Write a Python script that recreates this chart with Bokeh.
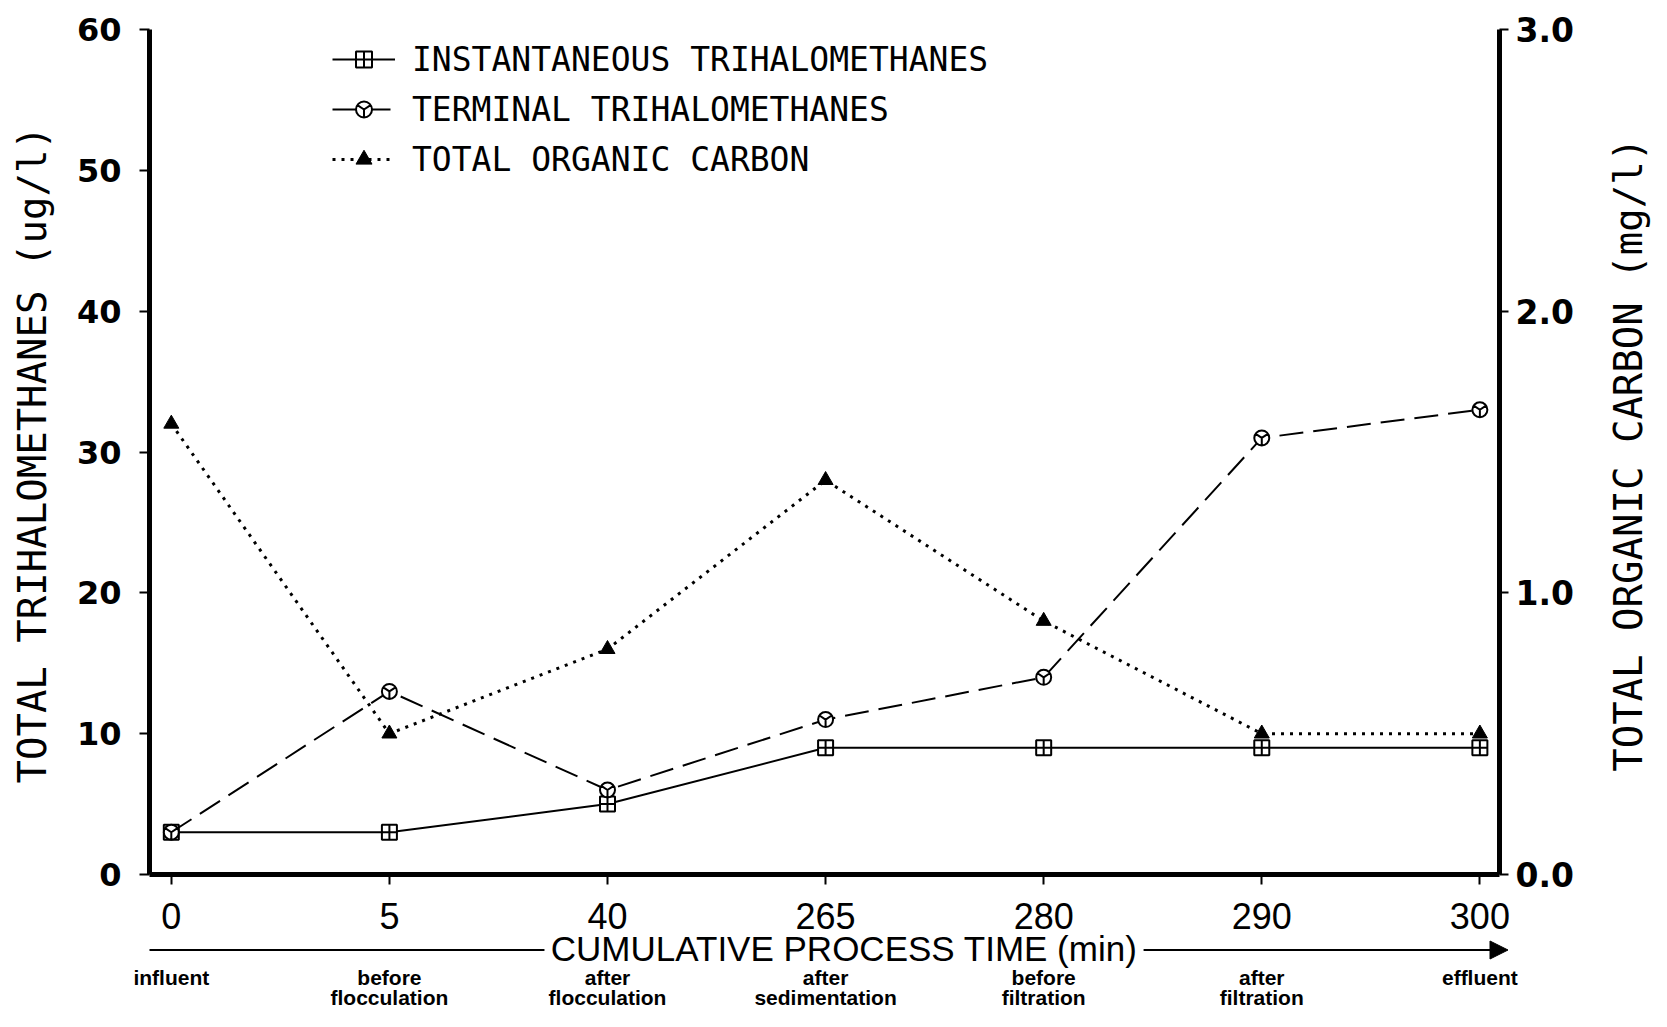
import math
from bokeh.plotting import figure
from bokeh.layouts import column, row
from bokeh.models import (Range1d, LinearAxis, FixedTicker, Legend, LegendItem,
                          Arrow, NormalHead, NumeralTickFormatter)
from bokeh.core.properties import value
from bokeh.embed import file_html
from bokeh.resources import INLINE

# ---- data ----
times = ["0", "5", "40", "265", "280", "290", "300"]
stages = ["influent", "before\nflocculation", "after\nflocculation",
          "after\nsedimentation", "before\nfiltration", "after\nfiltration", "effluent"]
inst_thm = [3, 3, 5, 9, 9, 9, 9]
term_thm = [3, 13, 6, 11, 14, 31, 33]
toc = [1.6, 0.5, 0.8, 1.4, 0.9, 0.5, 0.5]
thm_ticks = [0, 10, 20, 30, 40, 50, 60]
toc_ticks = [0.0, 1.0, 2.0, 3.0]
x_title = "CUMULATIVE PROCESS TIME (min)"
y_title = "TOTAL TRIHALOMETHANES (ug/l)"
y2_title = "TOTAL ORGANIC CARBON (mg/l)"

xs = list(range(len(times)))
stage_line1 = [s.split("\n")[0] for s in stages]
stage_line2 = [s.split("\n")[1] if "\n" in s else "" for s in stages]

# ---- layout geometry (pixels) ----
W = 1651
TOTAL_H = 1011
LEFT_W = 60          # strip holding the left axis title
RIGHT_W = 51         # strip holding the right axis title
FRAME_L, FRAME_R = 149, 1499
FRAME_T, FRAME_B = 29, 874
TOP_H = FRAME_B + 20
BOT_H = TOTAL_H - TOP_H
X0, X1 = -0.1, 6.09
PX = (FRAME_R - FRAME_L) / (X1 - X0)

TICK_FONT = "DejaVu Sans"
LABEL_FONT = "DejaVu Sans Mono"

main_w = W - LEFT_W - RIGHT_W
p = figure(width=main_w, height=TOP_H, output_backend="svg", toolbar_location=None,
           x_range=Range1d(X0, X1), y_range=Range1d(0, 60),
           min_border_left=FRAME_L - LEFT_W,
           min_border_right=LEFT_W + main_w - FRAME_R,
           min_border_top=FRAME_T, min_border_bottom=TOP_H - FRAME_B,
           background_fill_color="white", border_fill_color="white")
p.outline_line_color = None
p.grid.visible = False
p.extra_y_ranges = {"toc": Range1d(0, 3)}

# left axis
ya = p.yaxis[0]
ya.ticker = FixedTicker(ticks=thm_ticks)
ya.axis_line_width = 5
ya.major_tick_out = 10
ya.major_tick_in = 0
ya.major_tick_line_width = 2
ya.minor_tick_line_color = None
ya.major_label_text_font = TICK_FONT
ya.major_label_text_font_style = "bold"
ya.major_label_text_font_size = "32px"
ya.major_label_text_color = "black"
ya.major_label_standoff = 18

# right axis
ra = LinearAxis(y_range_name="toc", ticker=FixedTicker(ticks=toc_ticks),
                formatter=NumeralTickFormatter(format="0.0"))
ra.axis_line_width = 5
ra.major_tick_out = 9
ra.major_tick_in = 0
ra.major_tick_line_width = 2
ra.minor_tick_line_color = None
ra.major_label_text_font = TICK_FONT
ra.major_label_text_font_style = "bold"
ra.major_label_text_font_size = "33px"
ra.major_label_text_color = "black"
ra.major_label_standoff = 7
p.add_layout(ra, "right")

# bottom axis: line and ticks (labels drawn in the strip below)
xa = p.xaxis[0]
xa.ticker = FixedTicker(ticks=xs)
xa.major_label_overrides = {i: "" for i in xs}
xa.major_label_text_font_size = "1px"
xa.major_label_standoff = 0
xa.axis_line_width = 5
xa.major_tick_out = 10
xa.major_tick_in = 0
xa.major_tick_line_width = 2
xa.minor_tick_line_color = None

# series
r1l = p.line(xs, inst_thm, line_width=2, line_color="black")
r1m = p.scatter(xs, inst_thm, marker="square_cross", size=15, fill_color="white",
                line_color="black", line_width=2)
r2l = p.line(xs, term_thm, line_width=2, line_color="black", line_dash="24 10")
r2m = p.scatter(xs, term_thm, marker="circle_y", size=15, fill_color="white",
                line_color="black", line_width=2)
r3l = p.line(xs, toc, line_width=3, line_color="black", line_dash="3 6",
             y_range_name="toc")
r3m = p.scatter(xs, toc, marker="triangle", size=15, fill_color="black",
                line_color="black", y_range_name="toc")

frame_h = FRAME_B - FRAME_T
legend = Legend(items=[
    LegendItem(label="INSTANTANEOUS TRIHALOMETHANES", renderers=[r1l, r1m]),
    LegendItem(label="TERMINAL TRIHALOMETHANES", renderers=[r2l, r2m]),
    LegendItem(label="TOTAL ORGANIC CARBON", renderers=[r3l, r3m]),
], location=(183, frame_h - 10 - 140), glyph_width=63, glyph_height=40,
   label_height=40, spacing=10, padding=0, margin=0, border_line_color=None,
   background_fill_alpha=0, label_text_font=LABEL_FONT,
   label_text_font_size="33px", label_text_color="black", label_standoff=17)
p.add_layout(legend)

# ---- left strip: y axis title ----
pl = figure(width=LEFT_W, height=TOP_H, output_backend="svg", toolbar_location=None,
            x_range=Range1d(0, LEFT_W), y_range=Range1d(TOP_H, 0),
            min_border=0, x_axis_type=None, y_axis_type=None,
            background_fill_color="white", border_fill_color="white")
pl.outline_line_color = None
pl.grid.visible = False
pl.text(x=[32], y=[450], text=[y_title], angle=math.pi / 2, text_align="center",
        text_baseline="middle", text_font=value(LABEL_FONT), text_font_size="39px",
        text_color="black")

# ---- right strip: secondary y axis title ----
pr = figure(width=RIGHT_W, height=TOP_H, output_backend="svg", toolbar_location=None,
            x_range=Range1d(0, RIGHT_W), y_range=Range1d(TOP_H, 0),
            min_border=0, x_axis_type=None, y_axis_type=None,
            background_fill_color="white", border_fill_color="white")
pr.outline_line_color = None
pr.grid.visible = False
pr.text(x=[28], y=[450], text=[y2_title], angle=math.pi / 2, text_align="center",
        text_baseline="middle", text_font=value(LABEL_FONT), text_font_size="39px",
        text_color="black")

# ---- bottom strip: tick labels, process-time arrow, stage names ----
pb = figure(width=W, height=BOT_H, output_backend="svg", toolbar_location=None,
            x_range=Range1d(X0 - FRAME_L / PX, X1 + (W - FRAME_R) / PX),
            y_range=Range1d(BOT_H, 0), min_border=0,
            x_axis_type=None, y_axis_type=None,
            background_fill_color="white", border_fill_color="white")
pb.outline_line_color = None
pb.grid.visible = False

pb.text(x=xs, y=[21] * len(xs), text=times, text_align="center",
        text_baseline="middle", text_font=value("Liberation Sans"),
        text_font_size="36px", text_color="black")
pb.text(x=[3.085], y=[54], text=[x_title], text_align="center",
        text_baseline="middle", text_font=value("Liberation Sans"),
        text_font_size="35px", text_color="black")
pb.add_layout(Arrow(end=None, x_start=X0, y_start=55.5, x_end=1.711, y_end=55.5,
                    line_width=2, line_color="black"))
pb.add_layout(Arrow(end=NormalHead(size=18, fill_color="black", line_color="black"),
                    x_start=4.458, y_start=55.5, x_end=6.129, y_end=55.5,
                    line_width=2, line_color="black"))
pb.text(x=xs, y=[83] * len(xs), text=stage_line1, text_align="center",
        text_baseline="middle", text_font=value("Liberation Sans"),
        text_font_style="bold", text_font_size="21px", text_color="black")
pb.text(x=xs, y=[103] * len(xs), text=stage_line2, text_align="center",
        text_baseline="middle", text_font=value("Liberation Sans"),
        text_font_style="bold", text_font_size="21px", text_color="black")

layout = column(row(pl, p, pr, spacing=0), pb, spacing=0)
open("out.html", "w").write(file_html(layout, INLINE))
